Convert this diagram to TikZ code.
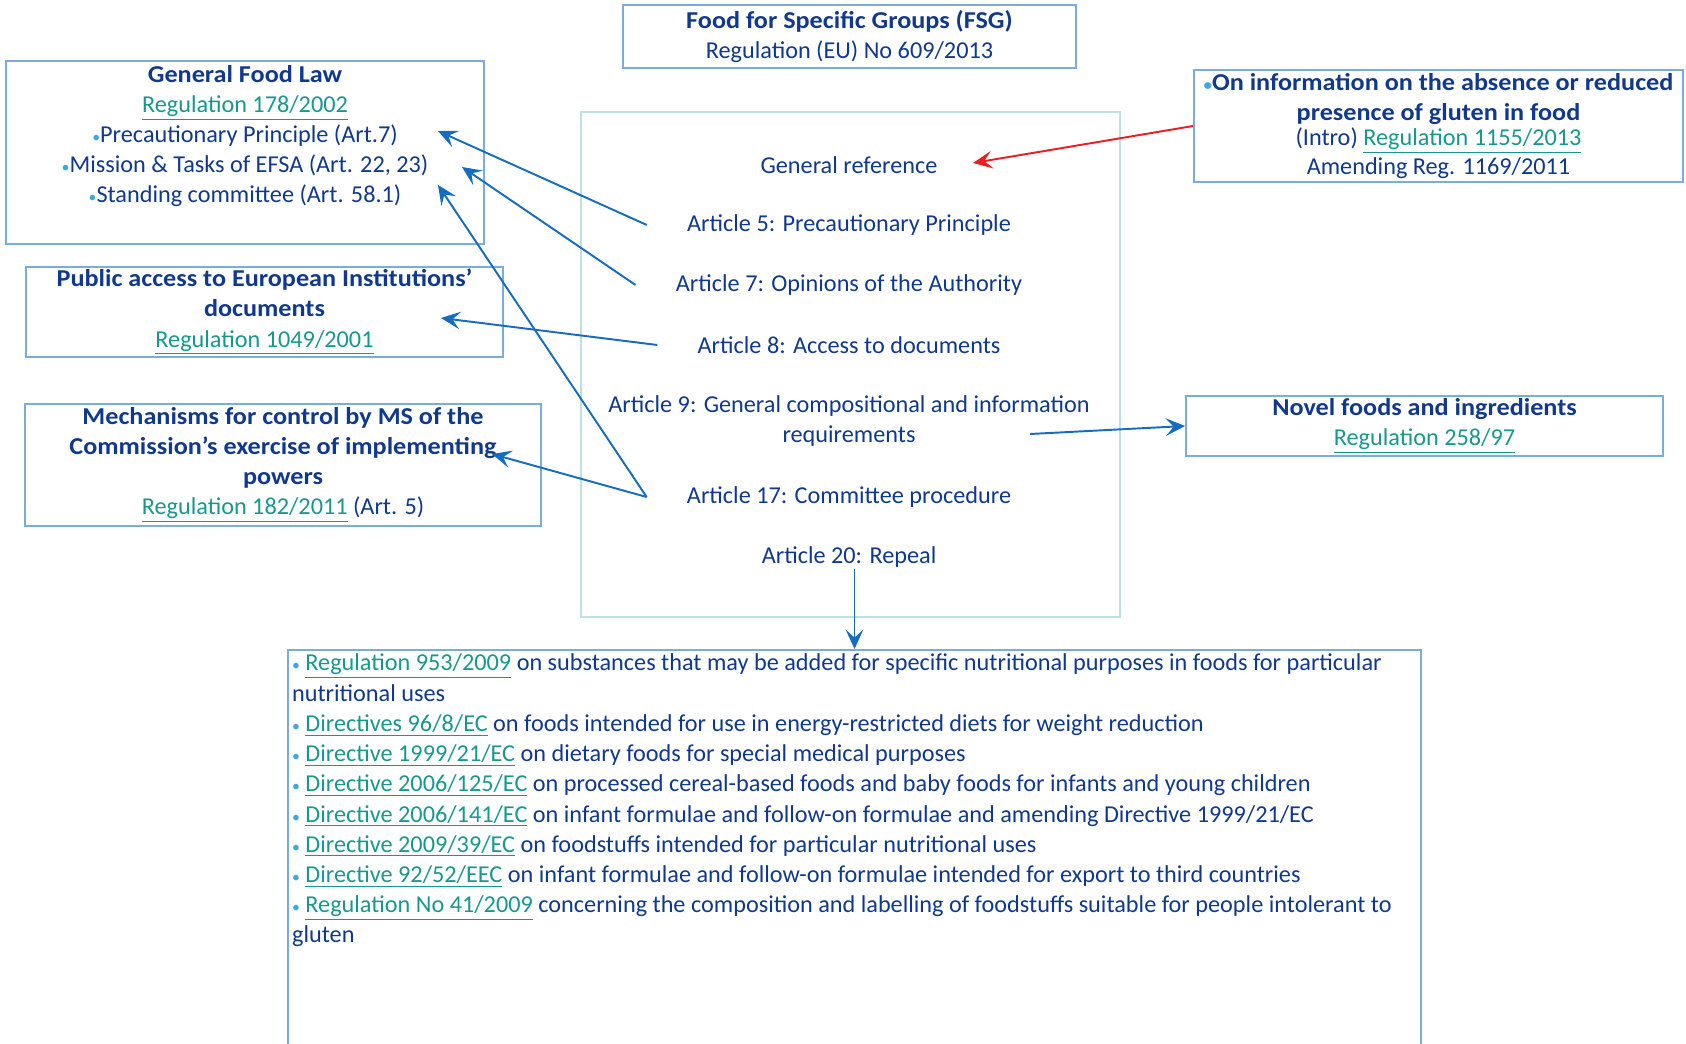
\documentclass[tikz,border=0pt]{standalone}
\usepackage{fontspec}
\usepackage{graphicx}
\setmainfont{Carlito}
\usetikzlibrary{arrows.meta}

\definecolor{eunavy}{RGB}{16,56,140}
\definecolor{reglink}{RGB}{24,152,140}
\definecolor{frameblue}{RGB}{122,172,222}
\definecolor{framecyan}{RGB}{188,224,230}
\definecolor{arrblue}{RGB}{22,108,190}
\definecolor{dotblue}{RGB}{64,168,224}
\definecolor{arrred}{RGB}{235,30,36}

\newcommand{\reg}[1]{\textcolor{reglink}{\underline{#1}}}
\newcommand{\dotb}{\textcolor{dotblue}{\small•}}
\newcommand{\hdr}[1]{\scalebox{1.08}[1]{\textbf{#1}}}

\begin{document}
\begin{tikzpicture}[x=.02cm,y=-.02cm,>={Stealth[length=11pt,width=10pt,inset=4.5pt]},
  frame/.style={draw=frameblue,line width=1.1pt},
  txt/.style={text=eunavy,align=center,font=\fontsize{13.8}{17.2}\selectfont,inner sep=1pt},
  art/.style={txt,inner xsep=.8cm},
  arr/.style={->,draw=arrblue,line width=1.1pt}]
  \clip (0,0) rectangle (1686,1044);
  % boxes round the regulation
  \node[frame,txt,minimum width=9.06cm,minimum height=1.26cm] (fsg) at (849.5,36.5)
    {\hdr{Food for Specific Groups (FSG)}\\Regulation (EU) No 609/2013};
  \node[frame,minimum width=9.56cm,minimum height=3.66cm] (gflbox) at (245,152.5) {};
  \node[txt,anchor=north] (gfl) at (245,63)
    {\hdr{General Food Law}\\\reg{Regulation 178/2002}\\\dotb Precautionary Principle (Art.7)\\
     \dotb Mission \& Tasks of EFSA (Art. 22, 23)\\\dotb Standing committee (Art. 58.1)};
  \node[frame,txt,minimum width=9.54cm,minimum height=1.8cm] (pub) at (264.5,312)
    {\hdr{Public access to European Institutions’}\\\hdr{documents}\\\reg{Regulation 1049/2001}};
  \node[frame,txt,minimum width=10.32cm,minimum height=2.44cm] (mech) at (283,465)
    {\hdr{Mechanisms for control by MS of the}\\\hdr{Commission’s exercise of implementing}\\
     \hdr{powers}\\\reg{Regulation 182/2011} (Art. 5)};
  \node[frame,txt,minimum width=9.78cm,minimum height=2.24cm] (glu) at (1438.5,126)
    {\hdr{\dotb On information on the absence or reduced}\\\hdr{presence of gluten in food}\\[-3pt]
     (Intro) \reg{Regulation 1155/2013}\\[-1pt]Amending Reg. 1169/2011};
  \node[frame,txt,minimum width=9.54cm,minimum height=1.2cm] (novel) at (1424.5,426)
    {\hdr{Novel foods and ingredients}\\\reg{Regulation 258/97}};
  % articles
  \node[draw=framecyan,line width=1.1pt,minimum width=10.78cm,minimum height=10.1cm] (artbox) at (850.5,364.5) {};
  \node[txt] (genref) at (849,165) {General reference};
  \node[art] (art5) at (849,225) {Article 5: Precautionary Principle};
  \node[art] (art7) at (849,285) {Article 7: Opinions of the Authority};
  \node[art] (art8) at (849,345) {Article 8: Access to documents};
  \node[art] (art9) at (849,421) {Article 9: General compositional and information\\requirements};
  \node[art] (art17) at (849,497) {Article 17: Committee procedure};
  \node[txt] (art20) at (849,557) {Article 20: Repeal};
  % repealed acts
  \node[frame,minimum width=22.66cm,minimum height=8.5cm,anchor=north] (rep) at (854.5,649) {};
  \node[txt,align=left,anchor=north west] (replist) at (290,652)
    {\dotb{} \reg{Regulation 953/2009} on substances that may be added for specific nutritional purposes in foods for particular\\
     nutritional uses\\
     \dotb{} \reg{Directives 96/8/EC} on foods intended for use in energy-restricted diets for weight reduction\\
     \dotb{} \reg{Directive 1999/21/EC} on dietary foods for special medical purposes\\
     \dotb{} \reg{Directive 2006/125/EC} on processed cereal-based foods and baby foods for infants and young children\\
     \dotb{} \reg{Directive 2006/141/EC} on infant formulae and follow-on formulae and amending Directive 1999/21/EC\\
     \dotb{} \reg{Directive 2009/39/EC} on foodstuffs intended for particular nutritional uses\\
     \dotb{} \reg{Directive 92/52/EEC} on infant formulae and follow-on formulae intended for export to third countries\\
     \dotb{} \reg{Regulation No 41/2009} concerning the composition and labelling of foodstuffs suitable for people intolerant to\\
     gluten};
  % arrow tips
  \coordinate (ppTip) at (438,131);
  \coordinate (efsaTip) at (462,167);
  \coordinate (stcTip) at (438,185);
  \coordinate (docsTip) at (441,318);
  \coordinate (implTip) at (492,454);
  \coordinate (genTip) at (973,163);
  \coordinate (a9out) at (1030,434);
  \draw[arr] (art5.west) -- (ppTip);
  \draw[arr] (art7.west) -- (efsaTip);
  \draw[arr] (art8.west) -- (docsTip);
  \draw[arr] (art17.west) -- (stcTip);
  \draw[arr] (art17.west) -- (implTip);
  \draw[arr] (a9out) -- (novel.west);
  \draw[arr] (art20.south -| rep.north) -- (rep.north);
  \draw[arr,draw=arrred] (glu.west) -- (genTip);
\end{tikzpicture}
\end{document}
